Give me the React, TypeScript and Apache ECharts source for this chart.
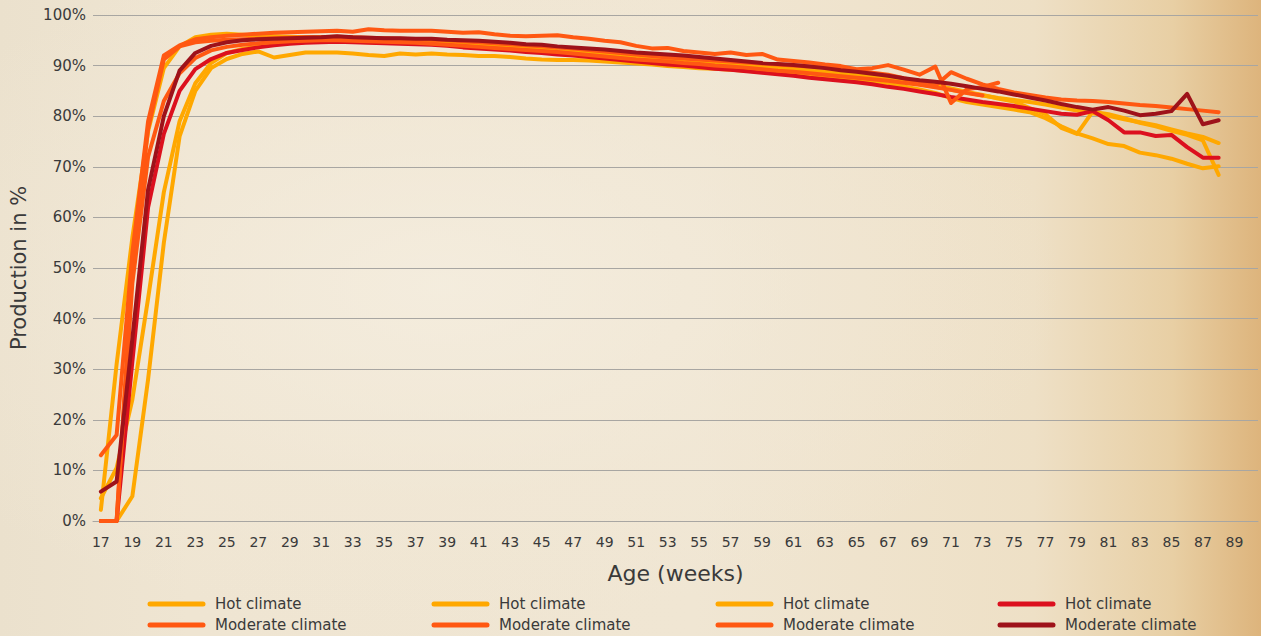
import React, { useEffect, useRef } from "react";
import * as echarts from "echarts";

const weeks: string[] = [
  "17","18","19","20","21","22","23","24","25","26","27","28","29","30","31","32","33","34","35","36",
  "37","38","39","40","41","42","43","44","45","46","47","48","49","50","51","52","53","54","55","56",
  "57","58","59","60","61","62","63","64","65","66","67","68","69","70","71","72","73","74","75","76",
  "77","78","79","80","81","82","83","84","85","86","87","88","89","90",
];

// weeks 17..88
const hot1: (number | null)[] = [
  0, 0, 4.9, 28, 55, 76, 85, 89.5, 91.3, 92.3, 92.8, 91.6, 92.1, 92.6, 92.6, 92.6, 92.4, 92.1, 91.9, 92.4,
  92.2, 92.4, 92.2, 92.1, 91.9, 91.9, 91.7, 91.4, 91.2, 91.1, 91.1, 91, 90.8, 90.6, 90.4, 90.2, 89.9, 89.7, 89.5, 89.4,
  89.2, 89, 88.8, 88.6, 88.3, 88.0, 87.7, 87.4, 87.1, 86.7, 86.3, 85.9, 85.3, 84.6, 83.6, 82.8, 82.3, 81.8, 81.3, 80.8,
  79.6, 78.0, 76.6, 75.6, 74.5, 74.1, 72.8, 72.3, 71.6, 70.6, 69.7, 70.1,
];
const hot2: (number | null)[] = [
  4.5, 10.5, 24, 44, 65, 79, 86.5, 90.5, 92.5, 93.3, 93.8, 94.2, 94.5, 94.7, 94.8, 94.8, 94.7, 94.6, 94.5, 94.5,
  94.4, 94.3, 94.2, 94, 93.8, 93.6, 93.3, 93.1, 92.8, 92.5, 92.3, 92.1, 91.9, 91.6, 91.3, 91, 90.6, 90.3, 90, 89.8,
  89.6, 89.4, 89.2, 89, 88.8, 88.6, 88.3, 88.1, 87.8, 87.5, 87.1, 86.7, 86.3, 85.8, 85.2, 84.7, 84.1, 83.6, 83.2, 82.8,
  82.3, 81.7, 81.1, 80.6, 80.1, 79.4, 78.8, 78.2, 77.4, 76.6, 75.9, 74.7,
];
const hot3: (number | null)[] = [
  2.2, 31, 56, 77, 89.5, 93.8, 95.6, 96.1, 96.3, 96.1, 95.9, 95.8, 95.7, 95.6, 95.6, 95.5, 95.4, 95.3, 95.2, 95.1,
  95, 94.8, 94.6, 94.4, 94.2, 94, 93.8, 93.5, 93.2, 92.9, 92.7, 92.5, 92.3, 92, 91.7, 91.4, 91.2, 91, 90.8, 90.5,
  90.3, 90.1, 89.9, 89.7, 89.4, 89.1, 88.8, 88.5, 88.2, 87.9, 87.6, 87.2, 86.8, 86.2, 85.5, 84.8, 84.2, 83.5, 82.9, 81.6,
  80.4, 77.7, 76.5, 80.9, 80.4, 79.6, 78.7, 78, 77.1, 76.3, 75.2, 68.4,
];
const hot4: (number | null)[] = [
  0, 0, 31.5, 62, 76.5, 85, 89.3, 91.3, 92.5, 93.1, 93.6, 94, 94.3, 94.5, 94.6, 94.7, 94.6, 94.5, 94.4, 94.3,
  94.2, 94.1, 93.9, 93.6, 93.4, 93.2, 93, 92.7, 92.5, 92.2, 92, 91.7, 91.4, 91.1, 90.8, 90.5, 90.2, 90, 89.7, 89.4,
  89.2, 88.9, 88.6, 88.3, 88, 87.6, 87.3, 87, 86.7, 86.3, 85.8, 85.4, 84.9, 84.4, 83.8, 83.3, 82.8, 82.4, 82, 81.5,
  81, 80.5, 80.3, 81, 79.2, 76.8, 76.8, 76.1, 76.3, 73.9, 71.8, 71.8,
];
const mod1: (number | null)[] = [
  13, 17, 53, 79, 92, 94, 95.2, 95.6, 95.9, 96.1, 96.3, 96.5, 96.6, 96.7, 96.8, 96.9, 96.7, 97.2, 97, 96.9,
  96.9, 96.9, 96.7, 96.5, 96.6, 96.2, 95.9, 95.8, 95.9, 96, 95.6, 95.3, 94.9, 94.6, 93.9, 93.4, 93.5, 92.9, 92.6, 92.3,
  92.6, 92.1, 92.3, 91.2, 90.9, 90.6, 90.2, 89.9, 89.3, 89.5, 90.1, 89.2, 88.2, 89.8, 82.6, 85.3, 85.8, 86.6,
];
const mod2: (number | null)[] = [
  0, 0, 50, 77.5, 91.2, 93.8, 94.6, 94.9, 95.1, 95.2, 95.3, 95.4, 95.5, 95.6, 95.6, 95.7, 95.6, 95.5, 95.4, 95.3,
  95.2, 95.1, 95, 94.8, 94.6, 94.4, 94.2, 94, 93.8, 93.6, 93.4, 93.1, 92.8, 92.5, 92.2, 91.9, 91.6, 91.4, 91.2, 91,
  90.8, 90.6, 90.4, 90.2, 90, 89.8, 89.6, 89.3, 89, 88.6, 88.2, 87.5, 86.6, 86, 88.7, 87.4, 86.3, 85.4, 84.7, 84.2,
  83.7, 83.3, 83.1, 83, 82.8, 82.5, 82.2, 82, 81.7, 81.4, 81.1, 80.8,
];
const mod3: (number | null)[] = [
  0, 0, 47, 72, 83, 88.5, 91.5, 93, 93.7, 94.1, 94.4, 94.6, 94.8, 94.9, 95, 95, 94.9, 94.8, 94.7, 94.6,
  94.5, 94.3, 94.1, 93.9, 93.7, 93.5, 93.3, 93.1, 92.9, 92.7, 92.4, 92.1, 91.8, 91.5, 91.2, 91, 90.8, 90.5, 90.3, 90,
  89.8, 89.6, 89.3, 89, 88.8, 88.5, 88.2, 87.9, 87.6, 87.3, 87, 86.6, 86.2, 85.7, 85.2, 84.6, 84.1,
];
const mod4: (number | null)[] = [
  5.8, 7.8, 36, 65.5, 80, 89, 92.5, 93.9, 94.6, 95, 95.2, 95.3, 95.4, 95.5, 95.6, 95.8, 95.6, 95.5, 95.4, 95.4,
  95.3, 95.3, 95.1, 95, 94.9, 94.7, 94.5, 94.2, 94.1, 93.8, 93.6, 93.4, 93.2, 92.9, 92.6, 92.4, 92.2, 92, 91.7, 91.4,
  91.1, 90.8, 90.5, 90.3, 90.1, 89.8, 89.5, 89.1, 88.8, 88.4, 88, 87.5, 87.1, 86.8, 86.4, 85.9, 85.4, 84.9, 84.3, 83.7,
  83.1, 82.4, 81.8, 81.3, 81.8, 81.1, 80.2, 80.5, 81, 84.4, 78.4, 79.2,
];

const YELLOW = "#FFA800";
const ORANGE = "#FF5812";
const RED = "#DC101E";
const DARKRED = "#9E121A";

const seriesDefs = [
  { name: "Hot climate", data: hot1, color: YELLOW, col: 0, row: 0 },
  { name: "Hot climate", data: hot2, color: YELLOW, col: 1, row: 0 },
  { name: "Hot climate", data: hot3, color: YELLOW, col: 2, row: 0 },
  { name: "Hot climate", data: hot4, color: RED, col: 3, row: 0 },
  { name: "Moderate climate", data: mod3, color: ORANGE, col: 2, row: 1 },
  { name: "Moderate climate", data: mod2, color: ORANGE, col: 1, row: 1 },
  { name: "Moderate climate", data: mod1, color: ORANGE, col: 0, row: 1 },
  { name: "Moderate climate", data: mod4, color: DARKRED, col: 3, row: 1 },
];

const FONT = "DejaVu Sans";
const TEXT = "#3a3a3a";

export default function App() {
  const ref = useRef<HTMLDivElement>(null);
  useEffect(() => {
    if (!ref.current) return;
    const chart = echarts.init(ref.current, null, { renderer: "svg" });
    const colX = [148, 432, 716, 998];
    const rowY = [604, 625];
    const legendEls: any[] = [];
    seriesDefs.forEach((s) => {
      const x = colX[s.col];
      const y = rowY[s.row];
      legendEls.push({
        type: "line",
        shape: { x1: x + 2, y1: y, x2: x + 55, y2: y },
        style: { stroke: s.color, lineWidth: 5, lineCap: "round" },
      });
      legendEls.push({
        type: "text",
        x: x + 67,
        y: y,
        style: {
          text: s.name,
          fill: TEXT,
          font: `15px "${FONT}"`,
          verticalAlign: "middle",
          align: "left",
        },
      });
    });
    chart.setOption({
      animation: false,
      backgroundColor: "transparent",
      grid: { left: 88, top: 15, width: 1170, height: 506, containLabel: false },
      xAxis: {
        type: "category",
        data: weeks,
        boundaryGap: true,
        name: "Age (weeks)",
        nameLocation: "middle",
        nameGap: 41,
        nameTextStyle: { fontFamily: FONT, fontSize: 22, color: TEXT },
        axisLine: { show: true, lineStyle: { color: "#a8a6a2", width: 1 } },
        axisTick: { show: false },
        axisLabel: { interval: 1, margin: 14, fontFamily: FONT, fontSize: 14, color: TEXT },
        splitLine: { show: false },
      },
      yAxis: {
        type: "value",
        min: 0,
        max: 100,
        interval: 10,
        name: "Production in %",
        nameLocation: "middle",
        nameGap: 64,
        nameTextStyle: { fontFamily: FONT, fontSize: 21, color: TEXT },
        axisLine: { show: false },
        axisTick: { show: false },
        axisLabel: { formatter: "{value}%", margin: 7, fontFamily: FONT, fontSize: 15, color: TEXT },
        splitLine: { show: true, lineStyle: { color: "#a8a6a2", width: 1 } },
      },
      series: seriesDefs.map((s) => ({
        type: "line",
        name: s.name,
        data: s.data,
        showSymbol: false,
        symbol: "none",
        connectNulls: false,
        lineStyle: { color: s.color, width: 4, join: "round", cap: "round" },
        itemStyle: { color: s.color },
      })),
      graphic: legendEls,
    });
    return () => chart.dispose();
  }, []);
  return (
    <div
      style={{
        position: "fixed",
        left: 0,
        top: 0,
        width: 1261,
        height: 636,
        background:
          "radial-gradient(ellipse 55% 60% at 35% 45%, rgba(245,238,224,0.8) 0%, rgba(242,233,216,0.4) 55%, rgba(240,228,206,0) 90%), linear-gradient(90deg, #ebe1cd 0%, #efe5d2 15%, #f0e6d3 55%, #eee0c6 82%, #e8cfa4 93%, #ddb47c 100%)",
      }}
    >
      <div ref={ref} style={{ width: 1261, height: 636 }} />
    </div>
  );
}
